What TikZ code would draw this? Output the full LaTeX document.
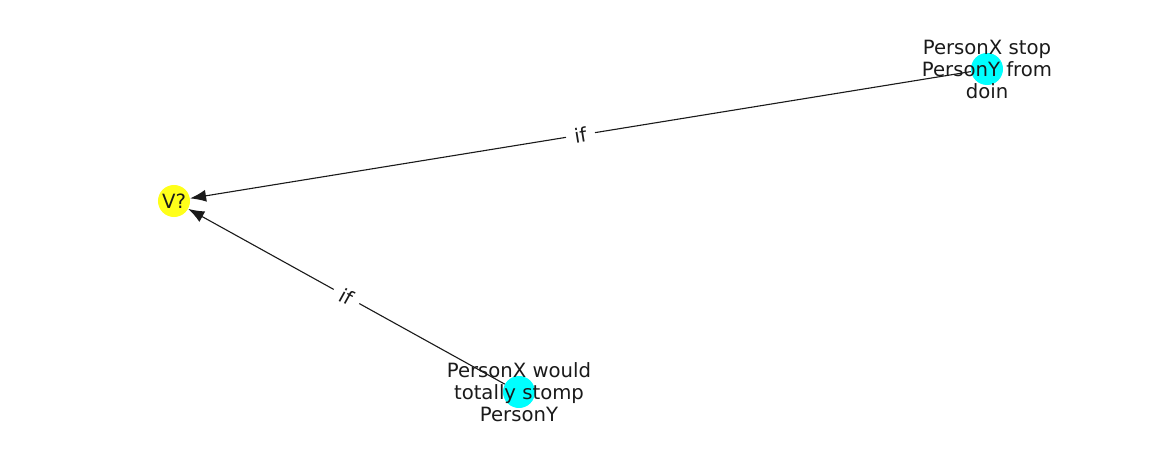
\documentclass[tikz,border=0pt]{standalone}
\usepackage{fontspec}
\setmainfont{DejaVu Sans}
\usepackage{tikz}
\usetikzlibrary{arrows.meta}
\definecolor{txt}{HTML}{1A1A1A}
\definecolor{nodecyan}{HTML}{00FFFF}
\definecolor{nodeyellow}{HTML}{FFFF1A}

\begin{document}
\begin{tikzpicture}[x=0.01in, y=0.01in,
    dot/.style={circle, minimum size=0.32in, inner sep=0pt},
    lbl/.style={text=txt, align=center, font=\fontsize{14.2}{15.9}\selectfont},
    rel/.style={-{Latex[length=0.16in, width=0.12in]}, line width=0.8pt, draw=txt},
    rellbl/.style={midway, sloped, fill=white, inner xsep=6pt, inner ysep=2pt, text=txt, font=\fontsize{14.2}{16}\selectfont}]
      \useasboundingbox (0, 0) rectangle (1162, 462);
      \node[dot, fill=nodeyellow] (v) at (174, 261) {};
      \node[dot, fill=nodecyan] (stop) at (987, 393) {};
      \node[dot, fill=nodecyan] (stomp) at (519, 70) {};
      \draw[rel] (stop) -- (v) node[rellbl] {if};
      \draw[rel] (stomp) -- (v) node[rellbl] {if};
      \node[lbl] at (v) {V?};
      \node[lbl] at (stop) {PersonX stop\\PersonY from\\doin};
      \node[lbl] at (stomp) {PersonX would\\totally stomp\\PersonY};
    \end{tikzpicture}
\end{document}
